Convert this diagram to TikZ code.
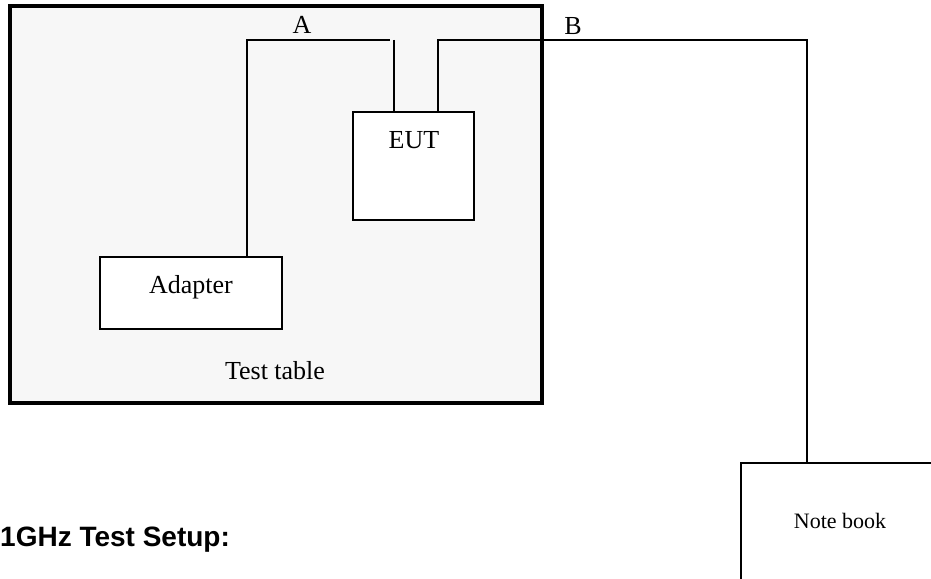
\documentclass[tikz,border=0pt]{standalone}
\usepackage{fontspec}
\setmainfont{Liberation Serif}
\newfontfamily\titlefont{Liberation Sans}
\usetikzlibrary{positioning}

\definecolor{tablegray}{HTML}{F7F7F7}

\tikzset{
  unit/.style={draw, fill=white, line width=2, inner sep=0, outer sep=0, anchor=north west},
  wire/.style={line width=2},
  lbl/.style={anchor=base, inner sep=0, font=\fontsize{26}{30}\selectfont},
}

\begin{document}
\begin{tikzpicture}[x=1pt, y=-1pt]
\clip (0,0) rectangle (931,578);
\fill[white] (0,0) rectangle (931,578);
% Test table
\node[draw, fill=tablegray, line width=4, inner sep=0, outer sep=0, anchor=north west,
  minimum width=532, minimum height=397] (table) at (9.5,6) {};
\node[lbl] (tabletext) at (275,379) {Test table};
% EUT and adapter
\node[unit, minimum width=121, minimum height=108] (eut) at (353,112) {};
\node[lbl] (euttext) at (414,148) {EUT};
\node[unit, minimum width=182, minimum height=72] (adapter) at (100,257) {};
\node[lbl] (adaptertext) at (191,293) {Adapter};
% Note book
\node[unit, minimum width=240, minimum height=160] (notebook) at (741,463) {};
\node[lbl, font=\fontsize{22}{26}\selectfont] (nbtext) at (840,528) {Note book};
% Cable A
\coordinate (aup) at (247,40);
\coordinate (aend) at (390,40);
\coordinate (ain) at (394,40);
\draw[wire] (aup |- adapter.north) -- (aup) -- (aend);
\draw[wire] (ain) -- (ain |- eut.north);
\node[lbl] (alabel) at (302,34) {A};
% Cable B
\coordinate (bin) at (438,40);
\coordinate (bturn) at (807,40);
\draw[wire] (bin |- eut.north) -- (bin) -- (bturn) -- (bturn |- notebook.north);
\node[lbl] (blabel) at (573,35) {B};
% Title
\node[anchor=base west, inner sep=0, font=\titlefont\bfseries\fontsize{28}{32}\selectfont] (title) at (0,546) {1GHz Test Setup:};
\end{tikzpicture}
\end{document}
